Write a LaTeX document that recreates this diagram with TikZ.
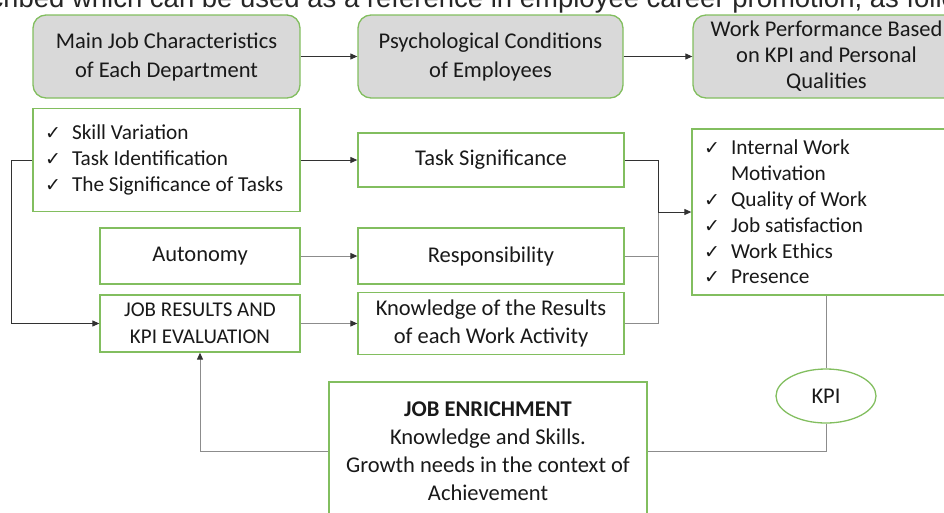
\documentclass[tikz,border=0pt]{standalone}
\usepackage{fontspec}
\setmainfont{Carlito}
\newfontfamily\capfont{Liberation Sans}
\newfontfamily\symfont{DejaVu Sans}
\usetikzlibrary{arrows.meta,shapes.geometric}
\definecolor{boxgreen}{RGB}{130,190,95}
\definecolor{boxgray}{RGB}{217,217,217}
\definecolor{darkline}{RGB}{50,50,50}
\definecolor{grayline}{RGB}{140,140,140}
\definecolor{txt}{RGB}{25,25,25}
\newcommand{\ck}{\hspace*{12pt}\makebox[27pt][l]{\symfont\fontsize{19}{19}\selectfont ✓}}
\newcommand{\ckind}{\hspace*{39pt}}
\begin{document}
\begin{tikzpicture}[x=1pt,y=-1pt,
  every node/.style={text=txt},
  topbox/.style={draw=boxgreen, line width=1.3pt, fill=boxgray, rounded corners=13pt,
    minimum width=#1, minimum height=83pt, align=center, inner sep=0pt,
    font=\fontsize{22.5}{29}\selectfont},
  plainbox/.style={draw=boxgreen, line width=1.3pt, fill=white, minimum width=#1,
    inner sep=0pt, align=center, font=\fontsize{22.5}{28}\selectfont},
  listbox/.style={draw=boxgreen, line width=1.3pt, fill=white, inner sep=0pt,
    text width=#1, align=flush left, font=\fontsize{21.3}{25.8}\selectfont},
  dk/.style={draw=darkline, line width=1pt},
  gr/.style={draw=grayline, line width=1pt},
  tip/.style={-{Triangle[length=7pt,width=6pt,color=darkline]}}
]
\useasboundingbox (0,0) rectangle (944,512);
\clip (0,0) rectangle (944,512);

\node[anchor=base west, inner sep=0pt, text=black!85,
  font=\capfont\fontsize{27.5}{27.5}\selectfont] (cap) at (-55,7)
  {described which can be used as a reference in employee career promotion, as follows};

\node[topbox=267pt] (t1) at (166.5,56.5) {Main Job Characteristics\\of Each Department};
\node[topbox=265pt] (t2) at (490.5,56.5) {Psychological Conditions\\of Employees};
\node[topbox=267pt, font=\fontsize{22.5}{26}\selectfont] (t3) at (826.5,56.5)
  {Work Performance Based\\on KPI and Personal\\Qualities};

\node[listbox=267pt, minimum height=103pt] (c1) at (166.5,160)
  {\ck Skill Variation\\\ck Task Identification\\\ck The Significance of Tasks};

\node[plainbox=266pt, minimum height=54pt] (ts) at (491,160) {Task Significance};
\node[plainbox=200pt, minimum height=56pt] (au) at (200,256) {Autonomy};
\node[plainbox=266pt, minimum height=56pt] (re) at (491,256) {Responsibility};
\node[plainbox=200pt, minimum height=57pt, font=\fontsize{21}{27.5}\selectfont] (jr) at (200,323.5)
  {JOB RESULTS AND\\KPI EVALUATION};
\node[plainbox=266pt, minimum height=62pt] (kn) at (491,323.5)
  {Knowledge of the Results\\of each Work Activity};

\node[listbox=268pt, minimum height=166pt] (c2) at (826,212)
  {\ck Internal Work\\\ckind Motivation\\\ck Quality of Work\\\ck Job satisfaction\\\ck Work Ethics\\\ck Presence};

\node[draw=boxgreen, line width=1.3pt, ellipse, minimum width=100pt, minimum height=54pt,
  inner sep=0pt, font=\fontsize{22.5}{28}\selectfont] (kpi) at (826,396) {KPI};

\node[plainbox=318pt, minimum height=139pt] (en) at (488,451.5)
  {\textbf{JOB ENRICHMENT}\\Knowledge and Skills.\\Growth needs in the context of\\Achievement};

\draw[dk,tip] (t1.east) -- (t2.west);
\draw[dk,tip] (t2.east) -- (t3.west);
\draw[dk,tip] (c1.west) -- ++(-21,0) |- (jr.west);
\draw[dk,tip] (c1.east) -- (ts.west);
\draw[gr,tip] (au.east) -- (re.west);
\draw[gr,tip] (jr.east) -- (kn.west);
\coordinate (jx) at (658,212);
\draw[dk] (ts.east) -| (jx);
\draw[gr] (re.east) -- (re.east -| jx);
\draw[gr] (kn.east) -| (jx);
\draw[dk,tip] (jx) -- (c2.west);
\draw[gr] (c2.south) -- (kpi.north);
\draw[gr] (kpi.south) |- (en.east);
\draw[gr,tip] (en.west) -| (jr.south);
\end{tikzpicture}
\end{document}
